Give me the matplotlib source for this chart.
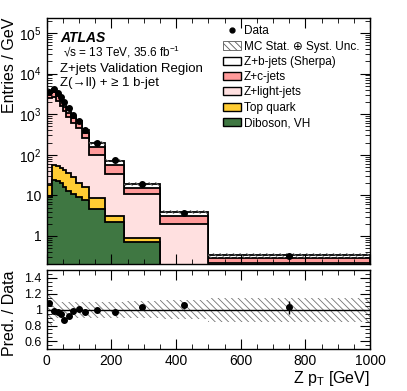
import matplotlib
matplotlib.use("Agg")
import matplotlib.pyplot as plt
import numpy as np
from matplotlib.patches import Patch
from matplotlib.lines import Line2D
from matplotlib.ticker import MultipleLocator, LogLocator, FuncFormatter, NullFormatter

plt.rcParams['font.family'] = ['Liberation Sans', 'DejaVu Sans']
plt.rcParams['mathtext.default'] = 'regular'
plt.rcParams['hatch.linewidth'] = 0.6

# Z pT binning [GeV]
edges = np.array([0, 15, 30, 40, 50, 60, 75, 90, 110, 130, 180, 240, 350, 500, 1000])

# Entries / GeV per sample
diboson = np.array([9.3, 24, 23, 20, 16.5, 12.8, 10.6, 9.3, 7.6, 4.5, 2.2, 0.72, 0, 0])
top = np.array([8.7, 31, 29, 27, 26.5, 22.7, 17.4, 10.7, 8.9, 3.9, 0.9, 0.15, 0, 0])
zlight = np.array([2476, 2662, 2093, 1583, 1129, 808, 580, 434, 245, 89.6, 30.9, 9.9, 2.0, 0.22])
zc = np.array([756, 823, 650, 494, 355, 256, 184, 137, 80, 57, 21, 4.7, 1.1, 0.06])
zb = np.array([530, 576, 455, 346, 249, 179, 129, 96, 56, 43, 17, 4.1, 0.8, 0.05])
data = np.array([3500, 4200, 3350, 2600, 2030, 1390, 940, 680, 410, 200, 74, 19, 3.7, 0.32])
# relative MC stat + syst uncertainty
rel_unc = np.array([0.22, 0.14, 0.11, 0.10, 0.10, 0.10, 0.10, 0.10, 0.10, 0.10, 0.10, 0.11, 0.12, 0.15])

widths = np.diff(edges)
centers = edges[:-1] + widths / 2
data_err = np.sqrt(data * widths) / widths

c_green = '#3f7742'
c_top = '#ffcc33'
c_light = '#ffe0e0'
c_c = '#ff9a9a'

cum_g = diboson
cum_t = cum_g + top
cum_l = cum_t + zlight
cum_c = cum_l + zc
total = cum_c + zb

fig = plt.figure(figsize=(4.07, 3.91), dpi=100)
ax = fig.add_axes([0.1147, 0.324, 0.7944, 0.629])
rax = fig.add_axes([0.1147, 0.1066, 0.7944, 0.2028])

floor = 1e-4
for vals, col in [(total, 'white'), (cum_c, c_c), (cum_l, c_light),
                  (cum_t, c_top), (cum_g, c_green)]:
    ax.stairs(np.maximum(vals, floor), edges, baseline=floor, fill=True,
              facecolor=col, edgecolor='none')
    ax.stairs(np.maximum(vals, floor), edges, baseline=floor, fill=False,
              color='black', lw=1.3)

ax.stairs(total * (1 + rel_unc), edges, baseline=total * (1 - rel_unc), fill=True,
          facecolor='none', edgecolor='0.45', hatch='\\\\\\\\\\', lw=0)

ax.errorbar(centers, data, yerr=data_err, fmt='o', color='black', ms=4,
            elinewidth=1, capsize=0)

ax.set_yscale('log')
ax.set_xlim(0, 1000)
ax.set_ylim(0.2, 2.3e5)


def logfmt(v, pos):
    e = int(round(np.log10(v)))
    if e == 0:
        return '1'
    if e == 1:
        return '10'
    return '$10^{%d}$' % e


ax.yaxis.set_major_locator(LogLocator(base=10, numticks=10))
ax.yaxis.set_minor_locator(LogLocator(base=10, subs=np.arange(2, 10), numticks=20))
ax.yaxis.set_major_formatter(FuncFormatter(logfmt))
ax.yaxis.set_minor_formatter(NullFormatter())
ax.xaxis.set_major_locator(MultipleLocator(200))
ax.xaxis.set_minor_locator(MultipleLocator(50))
ax.set_xticklabels([])

# ratio
ratio = total / data
ratio_err = ratio * data_err / data
rax.stairs(1 + rel_unc, edges, baseline=1 - rel_unc, fill=True,
           facecolor='none', edgecolor='0.45', hatch='\\\\\\\\\\', lw=0)
rax.axhline(1, color='black', lw=1)
rax.errorbar(centers, ratio, yerr=ratio_err, fmt='o', color='black', ms=4,
             elinewidth=1, capsize=0)
rax.set_xlim(0, 1000)
rax.set_ylim(0.5, 1.5)
rax.yaxis.set_major_locator(MultipleLocator(0.2))
rax.yaxis.set_minor_locator(MultipleLocator(0.05))
rax.yaxis.set_major_formatter(FuncFormatter(lambda v, p: '%g' % round(v, 2)))
rax.xaxis.set_major_locator(MultipleLocator(200))
rax.xaxis.set_minor_locator(MultipleLocator(50))

for a in (ax, rax):
    a.tick_params(which='both', direction='in', top=True, right=True, labelsize=10)
    a.tick_params(which='major', length=7)
    a.tick_params(which='minor', length=3.5)
    for s in a.spines.values():
        s.set_linewidth(1)
rax.tick_params(axis='y', labelsize=9)

# axis titles
fig.text(10 / 407, 1 - 18 / 391, 'Entries / GeV', rotation=90, ha='center',
         va='top', fontsize=11.5)
fig.text(10 / 407, 1 - 270 / 391, 'Pred. / Data', rotation=90, ha='center',
         va='top', fontsize=11.5)
fig.text(370 / 407, 1 - 369 / 391, 'Z p$_{T}$ [GeV]', ha='right', va='top',
         fontsize=11.5)

# labels
ax.text(0.041, 0.948, 'ATLAS', transform=ax.transAxes, fontsize=10,
        fontweight='bold', fontstyle='italic', va='top')
ax.text(0.051, 0.895, '\u221as = 13 TeV, 35.6 fb$^{-1}$', transform=ax.transAxes,
        fontsize=8.5, va='top')
ax.text(0.041, 0.82, 'Z+jets Validation Region', transform=ax.transAxes,
        fontsize=9.5, va='top')
ax.text(0.041, 0.76, 'Z(\u2192ll) + \u2265 1 b-jet', transform=ax.transAxes,
        fontsize=9.5, va='top')

hatch_patch = Patch(facecolor='white', edgecolor='0.35', hatch='\\\\\\\\\\', lw=0.6)
handles = [
    Line2D([], [], marker='o', color='black', ls='none', ms=3.5),
    hatch_patch,
    Patch(facecolor='white', edgecolor='black', lw=1),
    Patch(facecolor=c_c, edgecolor='black', lw=1),
    Patch(facecolor=c_light, edgecolor='black', lw=1),
    Patch(facecolor=c_top, edgecolor='black', lw=1),
    Patch(facecolor=c_green, edgecolor='black', lw=1),
]
labels = ['Data', 'MC Stat. \u2295 Syst. Unc.', 'Z+b-jets (Sherpa)', 'Z+c-jets',
          'Z+light-jets', 'Top quark', 'Diboson, VH']
ax.legend(handles, labels, loc='upper left', bbox_to_anchor=(0.544, 0.972),
          frameon=False, fontsize=8.5, borderpad=0, borderaxespad=0,
          handlelength=1.6, handleheight=0.7, handletextpad=0.2,
          labelspacing=0.28)

fig.savefig('out.png', dpi=100)
